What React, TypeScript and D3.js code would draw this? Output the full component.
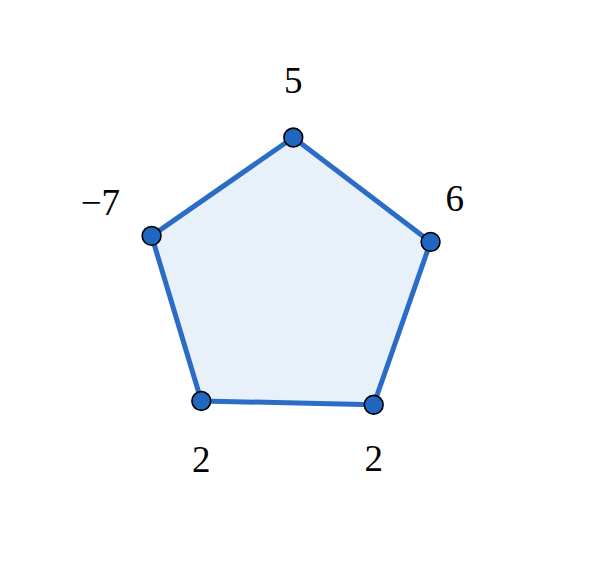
import React from 'react';
import * as d3 from 'd3';

// vertices clockwise from the top
const vertexValues: number[] = [5, 6, 2, 2, -7];
const vertexLabels: string[] = ['5', '6', '2', '2', '\u22127'];
// label direction (degrees, counter-clockwise from east) and distance from the vertex
const labelAngles: number[] = [90, 61, 270, 270, 147];
const labelDistances: number[] = [57, 50, 54, 58, 61];

const width = 590;
const height = 578;
const cx = 290.1;
const cy = 284.2;
const radius = 146.7;
const tilt = 1.25; // degrees the whole pentagon is turned clockwise

const App: React.FC = () => {
  const n = vertexValues.length;
  const angle = d3.scaleLinear()
    .domain([0, n])
    .range([0, 2 * Math.PI]);
  const tiltRad = (tilt * Math.PI) / 180;

  const points: [number, number][] = vertexValues.map((_, i) => {
    const a = angle(i) + tiltRad;
    return [cx + radius * Math.sin(a), cy - radius * Math.cos(a)];
  });

  const line = d3.line<[number, number]>().curve(d3.curveLinearClosed);
  const path = line(points) ?? '';

  return (
    <svg width={width} height={height}
         style={{position: 'absolute', left: 0, top: 0, background: '#fff'}}>
      <path d={path} fill="#e8f1f9" stroke="#2a6cc6" strokeWidth={5}
            strokeLinejoin="round"/>
      {points.map(([x, y], i) => (
        <circle key={`c${i}`} cx={x} cy={y} r={9.4} fill="#2166c0"
                stroke="#000" strokeWidth={1.6}/>
      ))}
      {points.map(([x, y], i) => {
        const a = (labelAngles[i] * Math.PI) / 180;
        const lx = x + labelDistances[i] * Math.cos(a);
        const ly = y - labelDistances[i] * Math.sin(a);
        return (
          <text key={`t${i}`} x={lx} y={ly} textAnchor="middle" dy="0.34em"
                fontFamily="'Liberation Serif', 'DejaVu Serif', serif"
                fontSize={37} fill="#000">
            {vertexLabels[i]}
          </text>
        );
      })}
    </svg>
  );
};

export default App;
